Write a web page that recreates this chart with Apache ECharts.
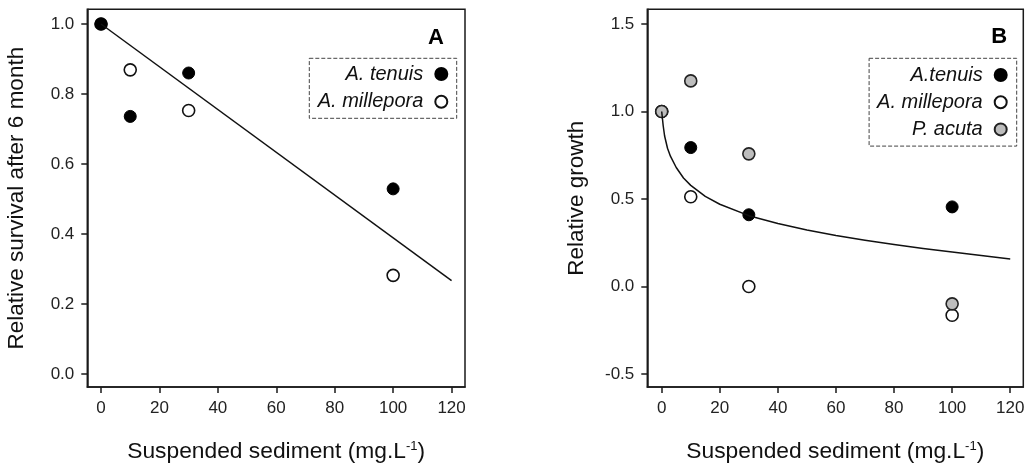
<!DOCTYPE html>
<html>
<head>
<meta charset="utf-8">
<script src="https://cdn.jsdelivr.net/npm/echarts@6/dist/echarts.min.js"></script>
<style>
  html, body { margin: 0; padding: 0; background: #fff; }
  #chart { width: 1029px; height: 465px; }
</style>
</head>
<body>
<div id="chart"></div>
<script>
// Suspended sediment treatments (mg/L)
const sediment = [0, 10, 30, 100];

// Panel A: relative survival after 6 months
const survivalTenuis = [1.0, 0.736, 0.86, 0.529];
const survivalMillepora = [1.0, 0.869, 0.753, 0.282];
const survivalFitX = [0, 120];
const survivalFitY = [1.0, 0.267];

// Panel B: relative growth
const growthTenuis = [1.0, 0.794, 0.41, 0.455];
const growthMillepora = [1.0, 0.513, 0.0, -0.164];
const growthAcuta = [1.0, 1.175, 0.758, -0.099];
const growthFitX = [0, 0.5, 1, 2, 3, 5, 7.5, 10, 15, 20, 30, 40, 50, 60, 70, 80, 90, 100, 110, 120];
const growthFitY = [1.0, 0.92, 0.86, 0.79, 0.745, 0.68, 0.62, 0.578, 0.515, 0.47, 0.405, 0.36, 0.323, 0.292, 0.265, 0.24, 0.218, 0.197, 0.177, 0.158];

// Tick positions
const xTicks = [0, 20, 40, 60, 80, 100, 120];
const survivalTicks = [0, 0.2, 0.4, 0.6, 0.8, 1.0];
const growthTicks = [-0.5, 0, 0.5, 1.0, 1.5];

const pairs = (xs, ys) => xs.map((x, i) => [x, ys[i]]);

const FONT = 'Liberation Sans, Arial, Helvetica, sans-serif';
const INK = '#1a1a1a';

const filledStyle = { color: '#000', borderColor: '#000', borderWidth: 1, opacity: 1 };
const openStyle = { color: '#fff', borderColor: '#111', borderWidth: 1.6, opacity: 1 };
const greyStyle = { color: '#bdbdbd', borderColor: '#222', borderWidth: 1.6, opacity: 1 };

function xAxis(gridIndex, min, max) {
  return {
    type: 'value', gridIndex, min, max,
    name: 'Suspended sediment (mg.L{sup|-1})',
    nameLocation: 'middle', nameGap: 53,
    nameTextStyle: {
      fontSize: 22.8, color: '#111', fontFamily: FONT,
      rich: { sup: { fontSize: 13, color: '#111', fontFamily: FONT, padding: [0, 0, 10, 0] } }
    },
    axisLine: { show: true, onZero: false, lineStyle: { color: INK, width: 1.5 } },
    axisTick: { show: true, length: 6, customValues: xTicks, lineStyle: { color: INK, width: 1.5 } },
    axisLabel: { customValues: xTicks, margin: 13, fontSize: 17, color: '#222', fontFamily: FONT,
                 formatter: v => String(v) },
    splitLine: { show: false }
  };
}

function yAxis(gridIndex, min, max, ticks, name) {
  return {
    type: 'value', gridIndex, min, max,
    name, nameLocation: 'middle', nameGap: 59,
    nameTextStyle: { fontSize: 22.5, color: '#111', fontFamily: FONT },
    axisLine: { show: true, onZero: false, lineStyle: { color: INK, width: 1.5 } },
    axisTick: { show: true, length: 6, customValues: ticks, lineStyle: { color: INK, width: 1.5 } },
    axisLabel: { customValues: ticks, margin: 13, fontSize: 17, color: '#222', fontFamily: FONT,
                 formatter: v => v.toFixed(1) },
    splitLine: { show: false }
  };
}

const legendBase = {
  orient: 'vertical', align: 'right', icon: 'circle',
  itemWidth: 26, itemHeight: 12,
  borderColor: '#444', borderWidth: 1, borderType: 'dashed',
  selectedMode: false,
  textStyle: { fontSize: 20, fontStyle: 'italic', color: '#111', fontFamily: FONT, lineHeight: 20 }
};

const chart = echarts.init(document.getElementById('chart'), null, { renderer: 'canvas' });
chart.setOption({
  animation: false,
  backgroundColor: '#fff',
  grid: [
    { left: 87.3, top: 9.3, width: 377.7, height: 377.7, show: true, borderColor: INK, borderWidth: 1.5,
      containLabel: false, outerBoundsMode: 'none' },
    { left: 647.3, top: 9.3, width: 376, height: 377.7, show: true, borderColor: INK, borderWidth: 1.5,
      containLabel: false, outerBoundsMode: 'none' }
  ],
  xAxis: [xAxis(0, -4.7, 124.6), xAxis(1, -4.96, 124.5)],
  yAxis: [
    yAxis(0, -0.037, 1.042, survivalTicks, 'Relative survival after 6 month'),
    yAxis(1, -0.574, 1.584, growthTicks, 'Relative growth')
  ],
  legend: [
    Object.assign({}, legendBase, {
      data: ['A. tenuis', 'A. millepora'],
      right: 572.3, top: 58.3, itemGap: 7.7, padding: [5.7, 8.4, 6.6, 8.4]
    }),
    Object.assign({}, legendBase, {
      data: ['A.tenuis', 'A. millepora', 'P. acuta'],
      right: 12.3, top: 58.3, itemGap: 7.2, padding: [6.7, 9, 6.7, 8]
    })
  ],
  graphic: [
    { type: 'text', x: 436, y: 38, style: { text: 'A', font: 'bold 22px ' + FONT, fill: '#000',
      align: 'center', verticalAlign: 'middle' } },
    { type: 'text', x: 999.3, y: 36.7, style: { text: 'B', font: 'bold 22px ' + FONT, fill: '#000',
      align: 'center', verticalAlign: 'middle' } }
  ],
  series: [
    // Panel A
    { name: 'A. millepora', type: 'scatter', xAxisIndex: 0, yAxisIndex: 0, symbol: 'circle', symbolSize: 12,
      itemStyle: openStyle, data: pairs(sediment, survivalMillepora) },
    { name: 'A. tenuis', type: 'scatter', xAxisIndex: 0, yAxisIndex: 0, symbol: 'circle', symbolSize: 12,
      itemStyle: filledStyle, data: pairs(sediment, survivalTenuis) },
    { name: 'survival fit', type: 'line', xAxisIndex: 0, yAxisIndex: 0, showSymbol: false,
      lineStyle: { color: '#111', width: 1.5 }, data: pairs(survivalFitX, survivalFitY) },
    // Panel B
    { name: 'A.tenuis', type: 'scatter', xAxisIndex: 1, yAxisIndex: 1, symbol: 'circle', symbolSize: 12,
      itemStyle: filledStyle, data: pairs(sediment, growthTenuis) },
    { name: 'A. millepora', type: 'scatter', xAxisIndex: 1, yAxisIndex: 1, symbol: 'circle', symbolSize: 12,
      itemStyle: openStyle, data: pairs(sediment, growthMillepora) },
    { name: 'P. acuta', type: 'scatter', xAxisIndex: 1, yAxisIndex: 1, symbol: 'circle', symbolSize: 12,
      itemStyle: greyStyle, data: pairs(sediment, growthAcuta) },
    { name: 'growth fit', type: 'line', xAxisIndex: 1, yAxisIndex: 1, showSymbol: false, smooth: false,
      lineStyle: { color: '#111', width: 1.5, join: 'round' }, data: pairs(growthFitX, growthFitY) }
  ]
});
</script>
</body>
</html>
